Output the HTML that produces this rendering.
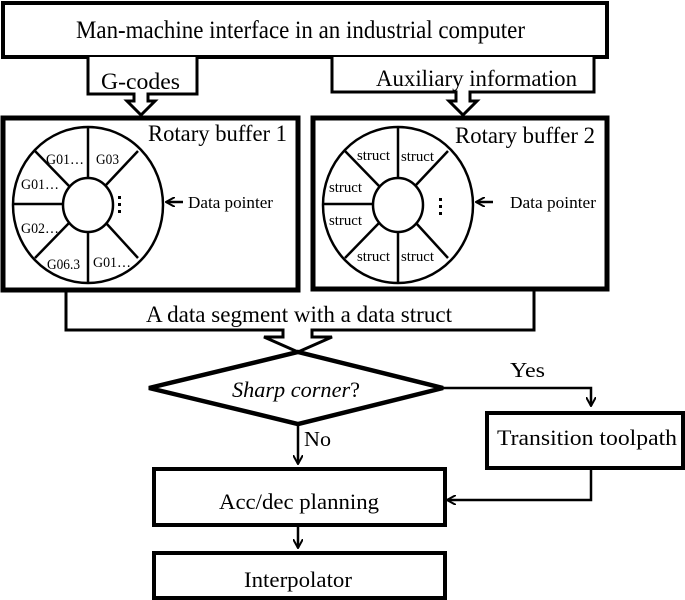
<!DOCTYPE html>
<html><head><meta charset="utf-8"><style>
html,body{margin:0;padding:0;background:#fff;}
svg{display:block;}
text{font-family:"Liberation Serif",serif;fill:#000;}
</style></head><body>
<svg width="685" height="600" viewBox="0 0 685 600" xmlns="http://www.w3.org/2000/svg">
<defs>
<marker id="ah" markerWidth="10" markerHeight="10" refX="9" refY="5" orient="auto" markerUnits="userSpaceOnUse">
<path d="M0,0 L9,5 L0,10" fill="none" stroke="#000" stroke-width="2"/>
</marker>
</defs>
<g fill="none" stroke="#000">
<rect x="3" y="3" width="604" height="54" stroke-width="4" fill="#fff"/>
<path d="M88,57 L88,94 L134,94 L134,101 L127,101 L141,115 L155,101 L148,101 L148,94 L197,94 L197,57" stroke-width="3" fill="#fff"/>
<path d="M332,57 L332,92 L456,92 L456,101 L449,101 L463,115 L477,101 L470,101 L470,92 L594,92 L594,57" stroke-width="3" fill="#fff"/>
<!-- data segment box (top hidden behind rotary boxes) -->
<path d="M66,290 L66,330 L283,330 L283,337 L264,337 L298,352 L332,337 L312,337 L312,330 L534,330 L534,290" stroke-width="3" fill="#fff"/>
<rect x="3" y="118" width="295" height="172" stroke-width="5" fill="#fff"/>
<rect x="313" y="118" width="294" height="171" stroke-width="5" fill="#fff"/>
<g stroke-width="2.5">
<ellipse cx="88" cy="205" rx="75" ry="78"/>
<ellipse cx="88" cy="205" rx="25" ry="27"/>
<line x1="88" y1="127" x2="88" y2="178"/>
<line x1="88" y1="232" x2="88" y2="283"/>
<line x1="12" y1="204" x2="63" y2="204"/>
<line x1="35" y1="151" x2="69" y2="186"/>
<line x1="138" y1="151" x2="106" y2="185"/>
<line x1="35" y1="258" x2="69" y2="223"/>
<line x1="138" y1="258" x2="106" y2="223"/>
</g>
<g stroke-width="2.5">
<ellipse cx="398" cy="205" rx="75" ry="78"/>
<ellipse cx="398" cy="205" rx="25" ry="27"/>
<line x1="398" y1="127" x2="398" y2="178"/>
<line x1="398" y1="232" x2="398" y2="283"/>
<line x1="323" y1="204" x2="373" y2="204"/>
<line x1="345" y1="151" x2="379" y2="186"/>
<line x1="448" y1="151" x2="416" y2="185"/>
<line x1="345" y1="258" x2="379" y2="223"/>
<line x1="448" y1="258" x2="416" y2="223"/>
</g>
<line x1="183" y1="202" x2="166" y2="202" stroke-width="2.5" marker-end="url(#ah)"/>
<line x1="493" y1="202" x2="476" y2="202" stroke-width="2.5" marker-end="url(#ah)"/>
<polygon points="298,352 443,388 298,424 149,388" stroke-width="4.5" fill="#fff"/>
<polyline points="443,388 591,388 591,406" stroke-width="2.5" marker-end="url(#ah)"/>
<rect x="487" y="413" width="196" height="55" stroke-width="4"/>
<line x1="298" y1="424" x2="298" y2="464" stroke-width="2.5" marker-end="url(#ah)"/>
<rect x="154" y="469" width="291" height="56" stroke-width="4"/>
<polyline points="591,468 591,500 447,500" stroke-width="2.5" marker-end="url(#ah)"/>
<line x1="298" y1="527" x2="298" y2="548" stroke-width="2.5" marker-end="url(#ah)"/>
<rect x="154" y="553" width="291" height="45" stroke-width="4"/>
</g>
<g>
<text x="76" y="38" font-size="25" textLength="449" lengthAdjust="spacingAndGlyphs">Man-machine interface in an industrial computer</text>
<text x="101" y="89" font-size="23" textLength="79" lengthAdjust="spacingAndGlyphs">G-codes</text>
<text x="376" y="86" font-size="23" textLength="201" lengthAdjust="spacingAndGlyphs">Auxiliary information</text>
<text x="148" y="141" font-size="23" textLength="139" lengthAdjust="spacingAndGlyphs">Rotary buffer 1</text>
<text x="455" y="143" font-size="23" textLength="140" lengthAdjust="spacingAndGlyphs">Rotary buffer 2</text>
<text x="188" y="208" font-size="17" textLength="85" lengthAdjust="spacingAndGlyphs">Data pointer</text>
<text x="510" y="208" font-size="17" textLength="86" lengthAdjust="spacingAndGlyphs">Data pointer</text>
<g font-size="15">
<text x="46" y="164" textLength="38" lengthAdjust="spacingAndGlyphs">G01…</text>
<text x="96" y="164" textLength="23" lengthAdjust="spacingAndGlyphs">G03</text>
<text x="21" y="189" textLength="38" lengthAdjust="spacingAndGlyphs">G01…</text>
<text x="21" y="233" textLength="38" lengthAdjust="spacingAndGlyphs">G02…</text>
<text x="47" y="269" textLength="33" lengthAdjust="spacingAndGlyphs">G06.3</text>
<text x="93" y="267" textLength="38" lengthAdjust="spacingAndGlyphs">G01…</text>
<text x="357" y="160" textLength="33" lengthAdjust="spacingAndGlyphs">struct</text>
<text x="401" y="161" textLength="33" lengthAdjust="spacingAndGlyphs">struct</text>
<text x="329" y="192" textLength="33" lengthAdjust="spacingAndGlyphs">struct</text>
<text x="329" y="225" textLength="33" lengthAdjust="spacingAndGlyphs">struct</text>
<text x="357" y="261" textLength="33" lengthAdjust="spacingAndGlyphs">struct</text>
<text x="401" y="261" textLength="33" lengthAdjust="spacingAndGlyphs">struct</text>
</g>
<g fill="#000">
<rect x="118" y="196" width="3" height="3"/><rect x="118" y="203" width="3" height="3"/><rect x="118" y="210" width="3" height="3"/>
<rect x="439" y="198" width="3" height="3"/><rect x="439" y="205" width="3" height="3"/><rect x="439" y="212" width="3" height="3"/>
</g>
<text x="146" y="322" font-size="23" textLength="306" lengthAdjust="spacingAndGlyphs">A data segment with a data struct</text>
<text x="232" y="397" font-size="22" font-style="italic" textLength="128" lengthAdjust="spacingAndGlyphs">Sharp corner<tspan font-style="normal">?</tspan></text>
<text x="510" y="377" font-size="21" textLength="35" lengthAdjust="spacingAndGlyphs">Yes</text>
<text x="304" y="446" font-size="21" textLength="27" lengthAdjust="spacingAndGlyphs">No</text>
<text x="497" y="445" font-size="22" textLength="180" lengthAdjust="spacingAndGlyphs">Transition toolpath</text>
<text x="219" y="509" font-size="22" textLength="160" lengthAdjust="spacingAndGlyphs">Acc/dec planning</text>
<text x="244" y="587" font-size="22" textLength="108" lengthAdjust="spacingAndGlyphs">Interpolator</text>
</g>
</svg>
</body></html>
